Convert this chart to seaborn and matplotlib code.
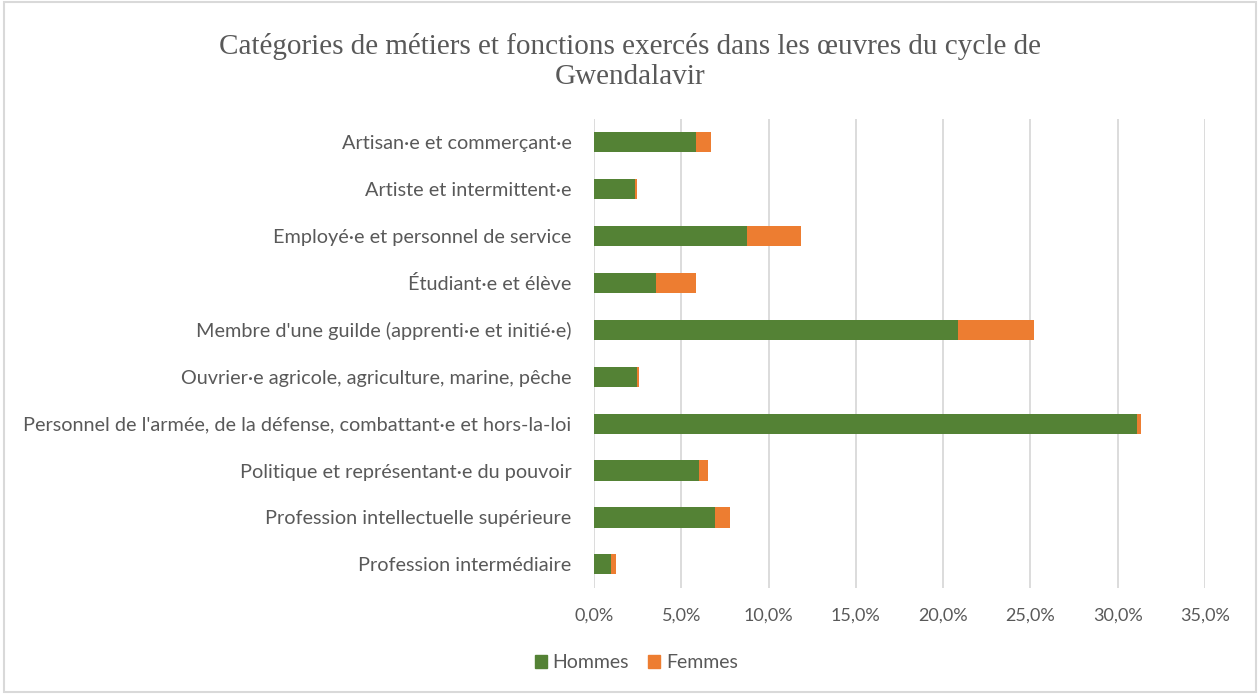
import matplotlib.pyplot as plt
import matplotlib.ticker as mticker
from matplotlib.patches import Patch, Rectangle
import seaborn as sns
import pandas as pd
import numpy as np

# data (share of characters, %)
categories = [
    "Artisan·e et commerçant·e",
    "Artiste et intermittent·e",
    "Employé·e et personnel de service",
    "Étudiant·e et élève",
    "Membre d'une guilde (apprenti·e et initié·e)",
    "Ouvrier·e agricole, agriculture, marine, pêche",
    "Personnel de l'armée, de la défense, combattant·e et hors-la-loi",
    "Politique et représentant·e du pouvoir",
    "Profession intellectuelle supérieure",
    "Profession intermédiaire",
]
hommes = [5.87, 2.34, 8.77, 3.58, 20.88, 2.47, 31.13, 6.00, 6.96, 0.98]
femmes = [0.82, 0.13, 3.08, 2.27, 4.35, 0.13, 0.20, 0.52, 0.84, 0.27]

df = pd.DataFrame({"cat": categories, "Hommes": hommes, "Femmes": femmes})
df["total"] = df["Hommes"] + df["Femmes"]

green = "#548235"
orange = "#ED7D31"
grey = "#595959"

sns.set_style("white")
plt.rcParams['font.family'] = ['Lato', 'DejaVu Sans']

fig = plt.figure(figsize=(12.6, 6.94), dpi=100)
ax = fig.add_axes([0.4714, 0.153, 0.4849, 0.676])

# stacked bars: total in orange, men drawn on top in green
sns.barplot(data=df, x="total", y="cat", color=orange, width=0.43,
            saturation=1, linewidth=0, ax=ax, zorder=3)
sns.barplot(data=df, x="Hommes", y="cat", color=green, width=0.43,
            saturation=1, linewidth=0, ax=ax, zorder=4)

ax.set_xlim(0, 35)
ax.set_xticks(np.arange(0, 36, 5))
ax.xaxis.set_major_formatter(mticker.FuncFormatter(lambda v, p: f"{v:.1f}%".replace(".", ",")))
ax.grid(axis="x", color="#D9D9D9", linewidth=1.3, zorder=0)
ax.set_axisbelow(True)
for s in ax.spines.values():
    s.set_visible(False)
ax.set_xlabel("")
ax.set_ylabel("")
ax.tick_params(axis="x", length=0, labelsize=13, labelcolor=grey, pad=14)
ax.tick_params(axis="y", length=0, labelsize=14.3, labelcolor=grey, pad=16)

fig.text(0.5, 0.912, "Catégories de métiers et fonctions exercés dans les œuvres du cycle de\nGwendalavir",
         ha="center", va="center", fontsize=21, color=grey, linespacing=1.2,
         family=["Liberation Serif", "DejaVu Serif"])

handles = [Patch(color=green, label="Hommes"), Patch(color=orange, label="Femmes")]
fig.legend(handles=handles, loc="center", bbox_to_anchor=(0.505, 0.045), ncol=2,
           frameon=False, fontsize=14, labelcolor=grey, handlelength=0.6,
           handleheight=0.6, handletextpad=0.3, columnspacing=1.0)

# light frame around the chart area
fig.patches.append(Rectangle((0.003, 0.003), 0.994, 0.994, transform=fig.transFigure,
                             fill=False, edgecolor="#D9D9D9", linewidth=1.5))

fig.savefig("out.png", dpi=100, facecolor="white")
